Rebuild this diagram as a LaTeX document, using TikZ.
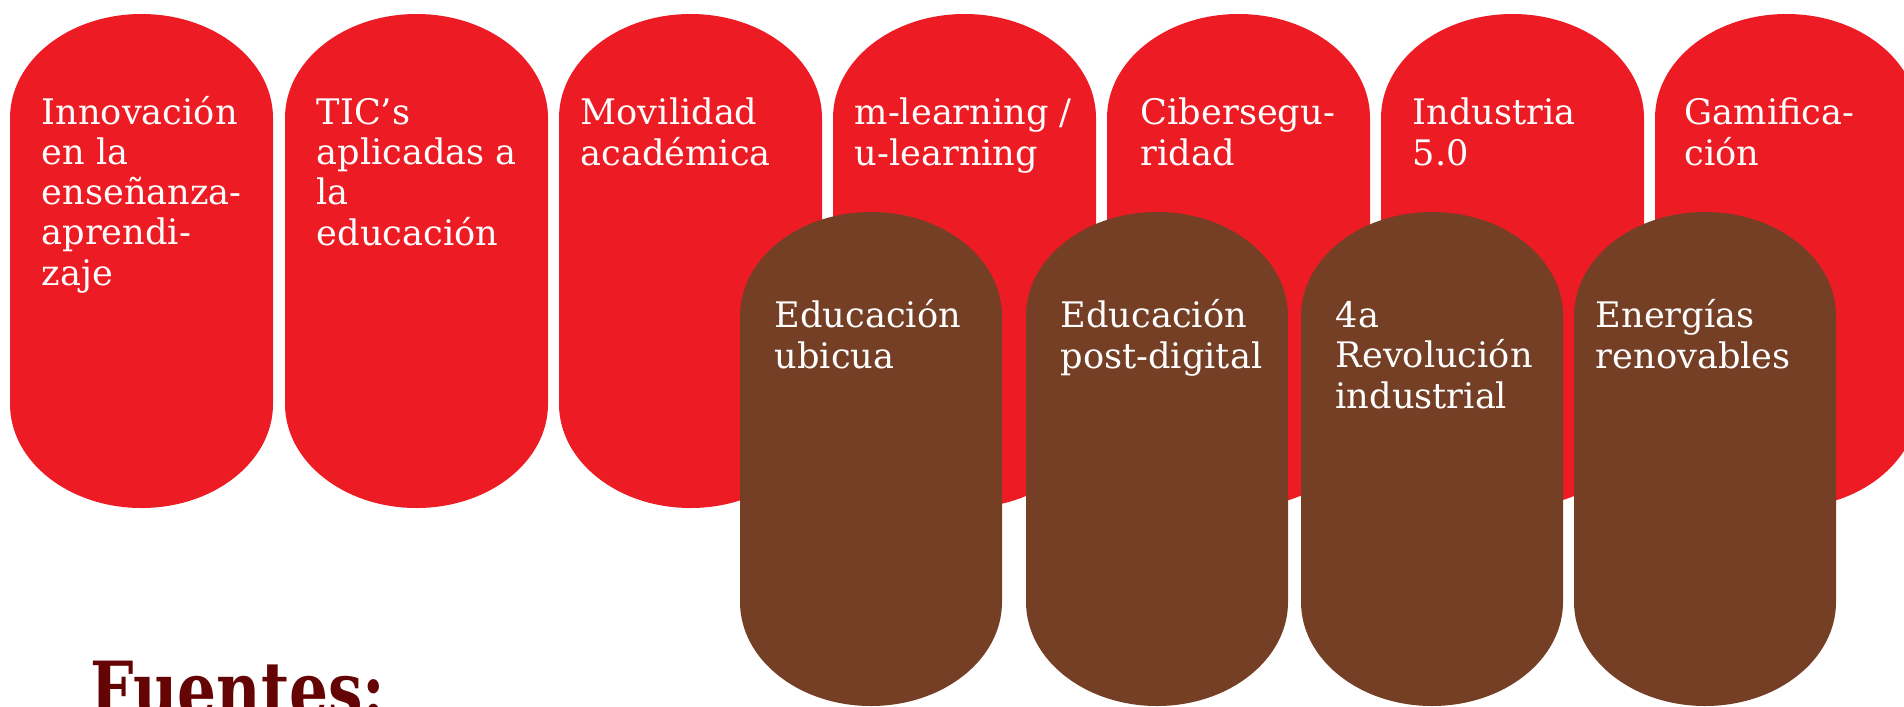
\documentclass[tikz,border=0pt]{standalone}
\usepackage{fontspec}
\setmainfont{DejaVu Serif}
\newfontfamily\fuentesfont{DejaVu Serif Condensed}
\definecolor{rojo}{RGB}{237,28,36}
\definecolor{cafe}{RGB}{117,63,37}
\definecolor{vino}{RGB}{100,4,4}

% pill: left x, top y, width, colour (pixel units of the picture)
\newcommand{\pildora}[4]{%
  \fill[#4] (#1,#2+104) arc[start angle=180,end angle=360,x radius=#3/2,y radius=104]
    -- (#1+#3,#2+494-104) arc[start angle=0,end angle=180,x radius=#3/2,y radius=104] -- cycle;}

\begin{document}
\begin{tikzpicture}[x=0.01cm,y=-0.01cm,
  etiqueta/.style={text=white,anchor=base west,align=left,inner sep=0pt,
    font=\fontsize{10}{0.4cm}\selectfont}]
\useasboundingbox (0,0) rectangle (1904,706);
\clip (0,0) rectangle (1904,706);

% upper row (labels sit on the baseline of their last line)
\pildora{10}{14}{263}{rojo}
\pildora{285}{14}{263}{rojo}
\pildora{559}{14}{263}{rojo}
\pildora{833}{14}{263}{rojo}
\pildora{1107}{14}{263}{rojo}
\pildora{1381}{14}{263}{rojo}
\pildora{1655}{14}{263}{rojo}
\node[etiqueta] (innovacion) at (41,285) {Innovación\\en la\\enseñanza-\\aprendi-\\zaje};
\node[etiqueta] (tics) at (316,245) {TIC’s\\aplicadas a\\la\\educación};
\node[etiqueta] (movilidad) at (580,165) {Movilidad\\académica};
\node[etiqueta] (mlearning) at (854,165) {m-learning /\\u-learning};
\node[etiqueta] (ciber) at (1140,165) {Cibersegu-\\ridad};
\node[etiqueta] (industria) at (1412,165) {Industria\\5.0};
\node[etiqueta] (gamificacion) at (1684,165) {Gamifica-\\ción};

% lower row
\pildora{740}{212}{262}{cafe}
\pildora{1026}{212}{262}{cafe}
\pildora{1301}{212}{262}{cafe}
\pildora{1574}{212}{262}{cafe}
\node[etiqueta] (ubicua) at (774,368) {Educación\\ubicua};
\node[etiqueta] (postdigital) at (1060,368) {Educación\\post-digital};
\node[etiqueta] (revolucion) at (1335,408) {4a\\Revolución\\industrial};
\node[etiqueta] (energias) at (1595,368) {Energías\\renovables};

\node[text=vino,anchor=base west,inner sep=0pt,font=\fuentesfont\bfseries\fontsize{22}{22}\selectfont] (fuentes) at (90,717) {\scalebox{0.88}[1]{Fuentes:}};
\end{tikzpicture}
\end{document}
